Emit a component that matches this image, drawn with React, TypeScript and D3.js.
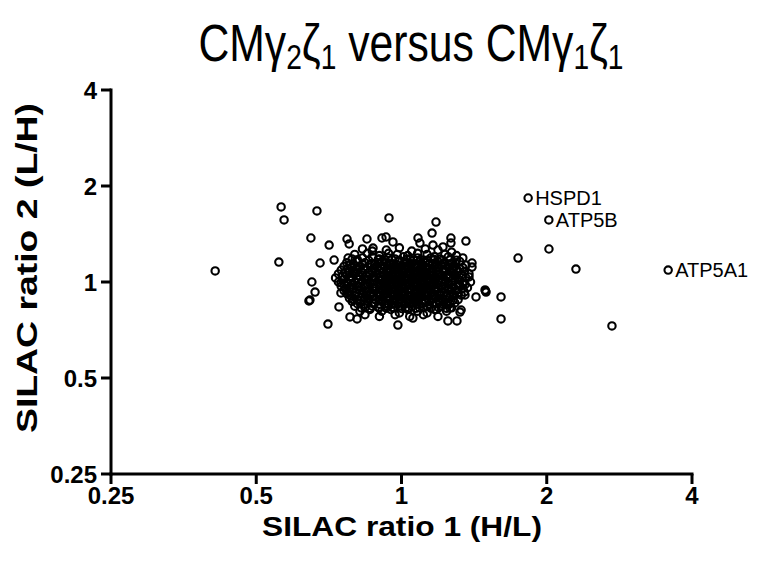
import React from 'react';
import * as d3 from 'd3';

const tickValues = [0.25, 0.5, 1, 2, 4];
const tickLabels = ['0.25', '0.5', '1', '2', '4'];

const labeledNames = ['HSPD1', 'ATP5B', 'ATP5A1'];
const labeledRatio1 = [1.83, 2.02, 3.57];
const labeledRatio2 = [1.834, 1.565, 1.09];

const outliers: [number, number][] = [
  [0.411, 1.083], [0.563, 1.719], [0.571, 1.565], [0.668, 1.67], [0.649, 1.374],
  [0.708, 1.306], [0.771, 1.364], [0.779, 1.316], [0.848, 1.364], [0.557, 1.155],
  [0.678, 1.147], [0.725, 1.172], [0.775, 1.189], [0.782, 1.131], [0.652, 1.0],
  [0.662, 0.93], [0.646, 0.878], [0.643, 0.872], [0.749, 0.993], [0.749, 0.924],
  [0.742, 0.835], [0.704, 0.738], [0.782, 0.777], [0.809, 0.766],
  [0.942, 1.588], [1.179, 1.542], [1.157, 1.424], [1.36, 1.344], [1.082, 1.374],
  [1.092, 1.325], [1.266, 1.374], [1.266, 1.325], [1.219, 1.288], [1.162, 1.306],
  [0.911, 1.374], [0.929, 1.384], [0.96, 1.335], [0.873, 1.278], [1.4, 1.147],
  [1.4, 1.114], [1.38, 1.037], [1.427, 0.898], [1.49, 0.944], [1.497, 0.93],
  [1.493, 0.937], [1.354, 0.911], [1.26, 0.829], [1.322, 0.805], [1.248, 0.755],
  [1.303, 0.755], [1.329, 0.817], [0.983, 0.733], [1.056, 0.771], [1.744, 1.189],
  [1.608, 0.898], [1.608, 0.766], [2.021, 1.269], [2.299, 1.098], [2.73, 0.728],
];

const cluster: [number, number][] = [
  [0.83, 1.27], [0.87, 1.25], [0.93, 1.26], [0.99, 1.28], [1.05, 1.25], [1.12, 1.27], [1.19, 1.26], [1.27, 1.24],
  [0.8, 1.22], [0.85, 1.23], [0.9, 1.21], [0.94, 1.23], [0.98, 1.22], [1.03, 1.21], [1.08, 1.23], [1.13, 1.22],
  [1.17, 1.2], [1.23, 1.22], [1.3, 1.21],
  [0.79, 1.18], [0.83, 1.19], [0.87, 1.2], [0.9, 1.18], [0.94, 1.19], [0.97, 1.18], [1.01, 1.2], [1.04, 1.18],
  [1.08, 1.19], [1.11, 1.17], [1.15, 1.19], [1.2, 1.18], [1.25, 1.2], [1.3, 1.17], [1.34, 1.19],
  [0.77, 1.15], [0.81, 1.16], [0.84, 1.15], [0.88, 1.14], [0.91, 1.16], [0.93, 1.15], [0.96, 1.14], [0.99, 1.16],
  [1.02, 1.15], [1.05, 1.14], [1.09, 1.16], [1.12, 1.15], [1.16, 1.14], [1.19, 1.16], [1.23, 1.15], [1.27, 1.14],
  [1.32, 1.16], [1.36, 1.13],
  [0.76, 1.12], [0.79, 1.11], [0.82, 1.12], [0.86, 1.13], [0.89, 1.11], [0.92, 1.12], [0.95, 1.13], [0.98, 1.11],
  [1.0, 1.12], [1.03, 1.11], [1.06, 1.13], [1.1, 1.12], [1.13, 1.11], [1.17, 1.12], [1.21, 1.13], [1.25, 1.11],
  [1.29, 1.12], [1.34, 1.11],
  [0.75, 1.09], [0.78, 1.08], [0.81, 1.09], [0.84, 1.1], [0.87, 1.08], [0.9, 1.09], [0.93, 1.08], [0.95, 1.1],
  [0.97, 1.09], [1.0, 1.08], [1.02, 1.1], [1.05, 1.09], [1.08, 1.08], [1.11, 1.09], [1.14, 1.1], [1.18, 1.08],
  [1.22, 1.09], [1.26, 1.08], [1.3, 1.1], [1.35, 1.08],
  [0.74, 1.06], [0.77, 1.05], [0.8, 1.06], [0.83, 1.07], [0.86, 1.05], [0.89, 1.06], [0.92, 1.05], [0.94, 1.07],
  [0.96, 1.06], [0.99, 1.05], [1.01, 1.07], [1.04, 1.06], [1.07, 1.05], [1.1, 1.06], [1.13, 1.07], [1.16, 1.05],
  [1.2, 1.06], [1.24, 1.05], [1.28, 1.07], [1.33, 1.05], [1.38, 1.06],
  [0.73, 1.03], [0.76, 1.02], [0.79, 1.03], [0.82, 1.04], [0.85, 1.02], [0.88, 1.03], [0.91, 1.02], [0.93, 1.04],
  [0.95, 1.03], [0.98, 1.02], [1.0, 1.04], [1.03, 1.03], [1.06, 1.02], [1.09, 1.03], [1.12, 1.04], [1.15, 1.02],
  [1.18, 1.03], [1.22, 1.02], [1.26, 1.04], [1.31, 1.02], [1.36, 1.03],
  [0.74, 1.0], [0.77, 0.99], [0.8, 1.0], [0.83, 1.01], [0.86, 0.99], [0.89, 1.0], [0.92, 0.99], [0.94, 1.01],
  [0.97, 1.0], [0.99, 0.99], [1.02, 1.01], [1.05, 1.0], [1.08, 0.99], [1.11, 1.0], [1.14, 1.01], [1.17, 0.99],
  [1.21, 1.0], [1.25, 0.99], [1.29, 1.01], [1.34, 0.99], [1.39, 1.0],
  [0.75, 0.97], [0.78, 0.96], [0.81, 0.97], [0.84, 0.98], [0.87, 0.96], [0.9, 0.97], [0.93, 0.96], [0.95, 0.98],
  [0.98, 0.97], [1.0, 0.96], [1.03, 0.98], [1.06, 0.97], [1.09, 0.96], [1.12, 0.97], [1.15, 0.98], [1.19, 0.96],
  [1.23, 0.97], [1.27, 0.96], [1.32, 0.98], [1.37, 0.96],
  [0.76, 0.94], [0.79, 0.95], [0.82, 0.94], [0.85, 0.93], [0.88, 0.95], [0.91, 0.94], [0.94, 0.93], [0.96, 0.95],
  [0.99, 0.94], [1.01, 0.93], [1.04, 0.95], [1.07, 0.94], [1.1, 0.93], [1.13, 0.95], [1.17, 0.94], [1.21, 0.93],
  [1.25, 0.95], [1.3, 0.94], [1.35, 0.93],
  [0.77, 0.92], [0.8, 0.91], [0.83, 0.92], [0.86, 0.91], [0.89, 0.92], [0.92, 0.91], [0.95, 0.92], [0.97, 0.91],
  [1.0, 0.92], [1.03, 0.91], [1.06, 0.92], [1.09, 0.91], [1.12, 0.92], [1.16, 0.91], [1.2, 0.92], [1.24, 0.91],
  [1.28, 0.92], [1.33, 0.91],
  [0.78, 0.89], [0.81, 0.88], [0.84, 0.89], [0.87, 0.9], [0.9, 0.88], [0.93, 0.89], [0.96, 0.88], [0.98, 0.9],
  [1.01, 0.89], [1.04, 0.88], [1.07, 0.89], [1.1, 0.9], [1.14, 0.88], [1.18, 0.89], [1.22, 0.88], [1.26, 0.9],
  [1.31, 0.88],
  [0.79, 0.87], [0.82, 0.86], [0.85, 0.87], [0.88, 0.86], [0.91, 0.87], [0.94, 0.85], [0.97, 0.87], [1.0, 0.86],
  [1.03, 0.87], [1.06, 0.86], [1.09, 0.85], [1.12, 0.87], [1.16, 0.86], [1.2, 0.87], [1.24, 0.85], [1.29, 0.86],
  [0.8, 0.84], [0.84, 0.83], [0.87, 0.84], [0.9, 0.83], [0.93, 0.84], [0.96, 0.83], [0.99, 0.84], [1.02, 0.83],
  [1.05, 0.84], [1.09, 0.83], [1.13, 0.84], [1.17, 0.82], [1.21, 0.84], [1.27, 0.83],
  [0.82, 0.81], [0.86, 0.82], [0.91, 0.81], [0.95, 0.82], [0.99, 0.8], [1.03, 0.82], [1.08, 0.81], [1.13, 0.8],
  [1.18, 0.82], [1.24, 0.81],
  [0.84, 0.79], [0.9, 0.78], [0.97, 0.79], [1.04, 0.78], [1.11, 0.79], [1.19, 0.78],
];

const clusterCore: [number, number][] = [
  [0.81, 1.175], [0.855, 1.17], [0.895, 1.178], [0.925, 1.172], [0.955, 1.176], [0.99, 1.17], [1.025, 1.177],
  [1.06, 1.171], [1.095, 1.175], [1.13, 1.169], [1.17, 1.176], [1.215, 1.172], [1.26, 1.174],
  [0.795, 1.14], [0.83, 1.137], [0.865, 1.143], [0.895, 1.139], [0.945, 1.141], [0.975, 1.136], [1.01, 1.142],
  [1.04, 1.138], [1.075, 1.141], [1.105, 1.137], [1.145, 1.142], [1.18, 1.139], [1.22, 1.14], [1.25, 1.136],
  [1.295, 1.141],
  [0.775, 1.105], [0.805, 1.102], [0.835, 1.107], [0.875, 1.103], [0.905, 1.106], [0.935, 1.101], [0.965, 1.105],
  [0.99, 1.102], [1.015, 1.107], [1.045, 1.103], [1.075, 1.106], [1.095, 1.1], [1.125, 1.105], [1.16, 1.102],
  [1.195, 1.106], [1.235, 1.101], [1.275, 1.104], [1.32, 1.102],
  [0.765, 1.075], [0.795, 1.072], [0.825, 1.077], [0.855, 1.073], [0.885, 1.076], [0.915, 1.071], [0.94, 1.075],
  [0.96, 1.072], [0.985, 1.077], [1.01, 1.073], [1.035, 1.076], [1.065, 1.071], [1.095, 1.075], [1.125, 1.072],
  [1.155, 1.077], [1.19, 1.073], [1.23, 1.076], [1.27, 1.071], [1.31, 1.075],
  [0.755, 1.045], [0.785, 1.042], [0.815, 1.047], [0.845, 1.043], [0.875, 1.046], [0.905, 1.041], [0.935, 1.045],
  [0.955, 1.042], [0.975, 1.047], [1.005, 1.043], [1.025, 1.046], [1.055, 1.041], [1.085, 1.045], [1.115, 1.042],
  [1.145, 1.047], [1.175, 1.043], [1.21, 1.046], [1.25, 1.041], [1.29, 1.045], [1.34, 1.043],
  [0.755, 1.015], [0.785, 1.012], [0.815, 1.017], [0.845, 1.013], [0.875, 1.016], [0.905, 1.011], [0.925, 1.015],
  [0.945, 1.012], [0.965, 1.017], [0.99, 1.013], [1.015, 1.016], [1.045, 1.011], [1.075, 1.015], [1.105, 1.012],
  [1.135, 1.017], [1.165, 1.013], [1.195, 1.016], [1.235, 1.011], [1.275, 1.015], [1.32, 1.013],
  [0.76, 0.985], [0.79, 0.982], [0.82, 0.987], [0.85, 0.983], [0.875, 0.986], [0.905, 0.981], [0.93, 0.985],
  [0.955, 0.982], [0.98, 0.987], [1.005, 0.983], [1.035, 0.986], [1.065, 0.981], [1.095, 0.985], [1.125, 0.982],
  [1.155, 0.987], [1.185, 0.983], [1.23, 0.986], [1.27, 0.981], [1.31, 0.985], [1.355, 0.982],
  [0.765, 0.955], [0.795, 0.952], [0.825, 0.957], [0.855, 0.953], [0.885, 0.956], [0.915, 0.951], [0.94, 0.955],
  [0.965, 0.952], [0.99, 0.957], [1.015, 0.953], [1.045, 0.956], [1.075, 0.951], [1.105, 0.955], [1.14, 0.952],
  [1.17, 0.957], [1.21, 0.953], [1.25, 0.956], [1.29, 0.951], [1.34, 0.955],
  [0.775, 0.93], [0.805, 0.927], [0.835, 0.932], [0.865, 0.928], [0.895, 0.931], [0.925, 0.926], [0.955, 0.93],
  [0.98, 0.927], [1.005, 0.932], [1.035, 0.928], [1.065, 0.931], [1.095, 0.926], [1.125, 0.93], [1.15, 0.927],
  [1.185, 0.932], [1.225, 0.928], [1.265, 0.931], [1.31, 0.927],
  [0.785, 0.905], [0.815, 0.902], [0.845, 0.907], [0.875, 0.903], [0.905, 0.906], [0.935, 0.901], [0.965, 0.905],
  [0.99, 0.902], [1.015, 0.907], [1.045, 0.903], [1.075, 0.906], [1.105, 0.901], [1.13, 0.905], [1.17, 0.902],
  [1.2, 0.907], [1.24, 0.903], [1.285, 0.905],
  [0.795, 0.88], [0.825, 0.877], [0.855, 0.882], [0.885, 0.878], [0.915, 0.881], [0.945, 0.876], [0.97, 0.88],
  [0.995, 0.877], [1.025, 0.882], [1.055, 0.878], [1.085, 0.881], [1.12, 0.876], [1.155, 0.88], [1.19, 0.877],
  [1.235, 0.881], [1.28, 0.878],
  [0.81, 0.855], [0.84, 0.852], [0.87, 0.857], [0.9, 0.853], [0.925, 0.856], [0.955, 0.851], [0.985, 0.855],
  [1.015, 0.852], [1.045, 0.857], [1.075, 0.853], [1.105, 0.856], [1.14, 0.851], [1.18, 0.855], [1.22, 0.852],
  [1.26, 0.856],
  [0.825, 0.83], [0.86, 0.827], [0.895, 0.832], [0.93, 0.828], [0.965, 0.831], [1.0, 0.826], [1.035, 0.83],
  [1.07, 0.827], [1.11, 0.832], [1.15, 0.828], [1.195, 0.831], [1.24, 0.827],
];

const FONT = '"Liberation Sans", Arial, Helvetica, sans-serif';

export default function App() {
  const W = 769;
  const H = 567;
  const x = d3.scaleLog().base(2).domain([0.25, 4]).range([111, 692]);
  const y = d3.scaleLog().base(2).domain([0.25, 4]).range([474, 90]);
  const allPoints: [number, number][] = [
    ...cluster,
    ...clusterCore,
    ...outliers,
    ...labeledRatio1.map((v, i) => [v, labeledRatio2[i]] as [number, number]),
  ];
  const x0 = x.range()[0];
  const y0 = y.range()[0];
  return (
    <svg width={W} height={H} style={{ position: 'absolute', left: 0, top: 0, background: '#fff' }}>
      <rect width={W} height={H} fill="#fff" />
      <g transform="translate(411,61) scale(0.97,1.18)">
        <text x={0} y={0} textAnchor="middle" fontFamily={FONT} fontSize={44} fill="#000">
          CMγ<tspan fontSize={29} dy={7}>2</tspan><tspan dy={-7}>ζ</tspan><tspan fontSize={29} dy={7}>1</tspan>
          <tspan dy={-7}> versus CMγ</tspan><tspan fontSize={29} dy={7}>1</tspan><tspan dy={-7}>ζ</tspan>
          <tspan fontSize={29} dy={7}>1</tspan>
        </text>
      </g>
      <g stroke="#000" strokeWidth={3} fill="none">
        <line x1={x0} x2={x0} y1={y(4) - 1.5} y2={y0 + 1.5} />
        <line x1={x0 - 1.5} x2={x(4) + 1.5} y1={y0} y2={y0} />
        {tickValues.map((t) => (
          <line key={'yt' + t} x1={x0 - 10} x2={x0} y1={y(t)} y2={y(t)} />
        ))}
        {tickValues.map((t) => (
          <line key={'xt' + t} x1={x(t)} x2={x(t)} y1={y0} y2={y0 + 10} />
        ))}
      </g>
      <g fontFamily={FONT} fontWeight="bold" fontSize={24} fill="#000">
        {tickValues.map((t, i) => (
          <text key={'yl' + t} x={x0 - 14} y={y(t) + 9} textAnchor="end">{tickLabels[i]}</text>
        ))}
        {tickValues.map((t, i) => (
          <text key={'xl' + t} x={x(t)} y={y0 + 30} textAnchor="middle">{tickLabels[i]}</text>
        ))}
      </g>
      <text x={402} y={536} textAnchor="middle" fontFamily={FONT} fontWeight="bold" fontSize={27}
        textLength={280} lengthAdjust="spacingAndGlyphs" fill="#000">
        SILAC ratio 1 (H/L)
      </text>
      <text transform="translate(37,268) rotate(-90)" textAnchor="middle" fontFamily={FONT} fontWeight="bold"
        fontSize={29} textLength={330} lengthAdjust="spacingAndGlyphs" fill="#000">
        SILAC ratio 2 (L/H)
      </text>
      <g fill="none" stroke="#000" strokeWidth={2.1}>
        {allPoints.map((p, i) => (
          <circle key={i} cx={x(p[0])} cy={y(p[1])} r={3.7} />
        ))}
      </g>
      <g fontFamily={FONT} fontSize={20} fill="#000">
        {labeledNames.map((n, i) => (
          <text key={n} x={x(labeledRatio1[i]) + 7} y={y(labeledRatio2[i]) + 7}>{n}</text>
        ))}
      </g>
    </svg>
  );
}
